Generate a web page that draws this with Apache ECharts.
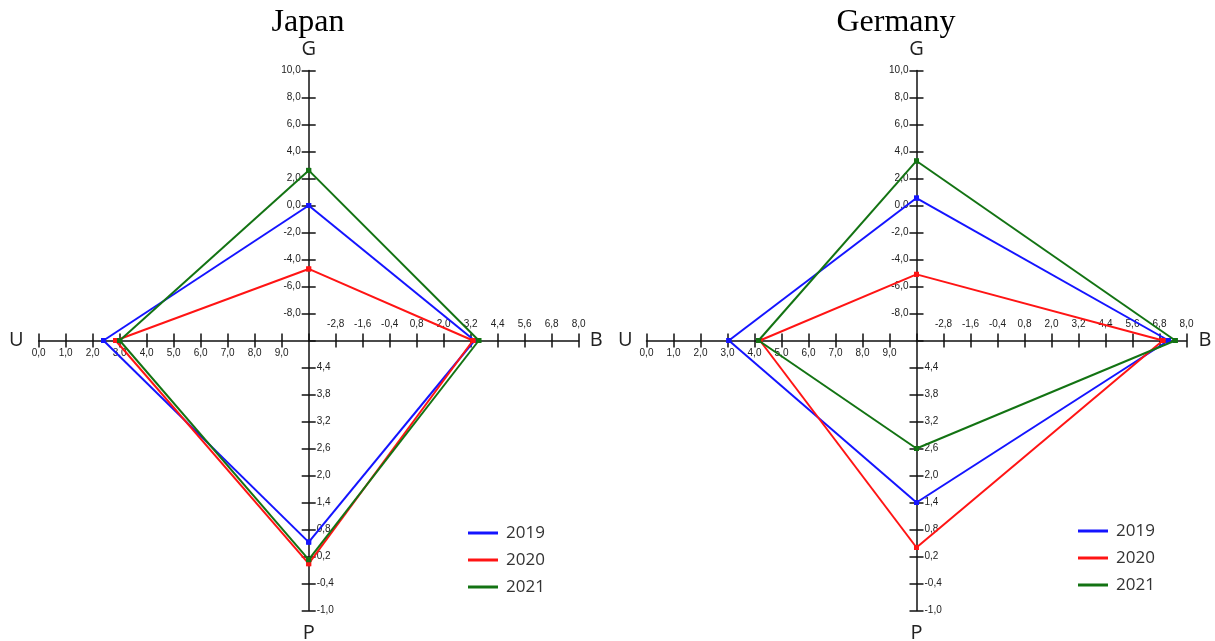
<!DOCTYPE html>
<html>
<head>
<meta charset="utf-8">
<script src="https://cdn.jsdelivr.net/npm/echarts@6/dist/echarts.min.js"></script>
<style>
html,body{margin:0;padding:0;background:#fff;}
#chart{width:1215px;height:641px;}
</style>
</head>
<body>
<div id="chart"></div>
<script>
// ---- data (values per year: 2019, 2020, 2021) ----
const years = ['2019', '2020', '2021'];
const yearColors = ['#1414ff', '#ff1414', '#137313'];

const japanG = [0.0, -4.7, 2.6];
const japanB = [3.37, 3.3, 3.56];
const japanP = [0.52, 0.04, 0.13];
const japanU = [2.4, 2.85, 3.0];

const germanyG = [0.55, -5.1, 3.3];
const germanyB = [7.2, 6.95, 7.5];
const germanyP = [1.4, 0.4, 2.6];
const germanyU = [3.05, 4.2, 4.15];

// axis scales: [value at centre, value at outer end] and tick step
const gRange = [-10, 10], gStep = 2;
const bRange = [-4, 8], bStep = 1.2;
const pRange = [-1, 5], pStep = 0.6;   // -1 at outer end, 5 at centre
const uRange = [0, 10], uStep = 1;     // 0 at outer end, 10 at centre

const charts = [
  { title: 'Japan', titleX: 303, cx: 308.7, cy: 340.5, R: 270, legendX: 463, legendY: 519,
    G: japanG, B: japanB, P: japanP, U: japanU, uGap: 15, bGap: 11 },
  { title: 'Germany', titleX: 891, cx: 916.5, cy: 340.5, R: 270, legendX: 1073, legendY: 517,
    G: germanyG, B: germanyB, P: germanyP, U: germanyU, uGap: 14, bGap: 12 }
];

// ---- styles ----
const axisColor = '#111';
const lblStyle = { fontFamily: 'Liberation Sans', fontSize: 10, color: '#222' };
const nameStyle = { fontFamily: 'Open Sans', fontSize: 20, color: '#222' };
const fmt = v => v.toFixed(1).replace('.', ',');
const aLine = show => ({ show: show, onZero: false, lineStyle: { color: axisColor, width: 1.5 } });
const aTick = { show: true, length: 7, lineStyle: { color: axisColor, width: 1.5 } };
const noLabel = { show: false };

const grid = [], xAxis = [], yAxis = [], series = [], title = [], legend = [];

charts.forEach((c, ci) => {
  const base = ci * 4;
  const { cx, cy, R } = c;
  // quadrant grids: TR, TL, BR, BL
  grid.push({ left: cx, top: cy - R, width: R, height: R, outerBoundsMode: 'none' });
  grid.push({ left: cx - R, top: cy - R, width: R, height: R, outerBoundsMode: 'none' });
  grid.push({ left: cx, top: cy, width: R, height: R, outerBoundsMode: 'none' });
  grid.push({ left: cx - R, top: cy, width: R, height: R, outerBoundsMode: 'none' });

  // TR
  xAxis.push({ type: 'value', gridIndex: base, min: bRange[0], max: bRange[1], interval: bStep,
    position: 'bottom', axisLine: aLine(true), axisTick: aTick, splitLine: { show: false },
    axisLabel: Object.assign({ inside: true, margin: 11, showMinLabel: false, formatter: fmt }, lblStyle),
    name: 'B', nameLocation: 'end', nameGap: c.bGap, nameTextStyle: nameStyle });
  yAxis.push({ type: 'value', gridIndex: base, min: gRange[0], max: gRange[1], interval: gStep,
    position: 'left', axisLine: aLine(true), axisTick: aTick, splitLine: { show: false },
    axisLabel: Object.assign({ margin: 8, showMinLabel: false, formatter: fmt }, lblStyle),
    name: 'G', nameLocation: 'end', nameGap: 11, nameTextStyle: nameStyle });
  // TL
  xAxis.push({ type: 'value', gridIndex: base + 1, min: uRange[0], max: uRange[1], interval: uStep,
    position: 'bottom', axisLine: aLine(true), axisTick: aTick, splitLine: { show: false },
    axisLabel: Object.assign({ margin: 8, showMaxLabel: false, formatter: fmt }, lblStyle),
    name: 'U', nameLocation: 'start', nameGap: c.uGap, nameTextStyle: nameStyle });
  yAxis.push({ type: 'value', gridIndex: base + 1, min: gRange[0], max: gRange[1], interval: gStep,
    position: 'right', axisLine: aLine(false), axisTick: aTick, splitLine: { show: false }, axisLabel: noLabel });
  // BR
  xAxis.push({ type: 'value', gridIndex: base + 2, min: bRange[0], max: bRange[1], interval: bStep,
    position: 'top', axisLine: aLine(false), axisTick: aTick, splitLine: { show: false }, axisLabel: noLabel });
  yAxis.push({ type: 'value', gridIndex: base + 2, min: pRange[0], max: pRange[1], interval: pStep,
    position: 'left', axisLine: aLine(true), axisTick: aTick, splitLine: { show: false },
    axisLabel: Object.assign({ inside: true, margin: 8, showMaxLabel: false, formatter: fmt }, lblStyle),
    name: 'P', nameLocation: 'start', nameGap: 13, nameTextStyle: nameStyle });
  // BL
  xAxis.push({ type: 'value', gridIndex: base + 3, min: uRange[0], max: uRange[1], interval: uStep,
    position: 'top', axisLine: aLine(false), axisTick: aTick, splitLine: { show: false }, axisLabel: noLabel });
  yAxis.push({ type: 'value', gridIndex: base + 3, min: pRange[0], max: pRange[1], interval: pStep,
    position: 'right', axisLine: aLine(false), axisTick: aTick, splitLine: { show: false }, axisLabel: noLabel });

  const gC = gRange[0], bC = bRange[0], pC = pRange[1], uC = uRange[1];
  years.forEach((yr, i) => {
    const common = { type: 'line', name: yr, color: yearColors[i], symbol: 'rect', symbolSize: 5,
      clip: false, silent: true, animation: false, lineStyle: { width: 2, color: yearColors[i] },
      itemStyle: { color: yearColors[i] }, z: 3 + i };
    // G -> B (top right)
    series.push(Object.assign({}, common, { xAxisIndex: base, yAxisIndex: base,
      data: [[bC, c.G[i]], [c.B[i], gC]] }));
    // B -> P (bottom right)
    series.push(Object.assign({}, common, { xAxisIndex: base + 2, yAxisIndex: base + 2,
      data: [[c.B[i], pC], [bC, c.P[i]]] }));
    // P -> U (bottom left)
    series.push(Object.assign({}, common, { xAxisIndex: base + 3, yAxisIndex: base + 3,
      data: [[uC, c.P[i]], [c.U[i], pC]] }));
    // U -> G (top left)
    series.push(Object.assign({}, common, { xAxisIndex: base + 1, yAxisIndex: base + 1,
      data: [[c.U[i], gC], [uC, c.G[i]]] }));
  });

  title.push({ text: c.title, left: c.titleX, top: 2, textAlign: 'center',
    textStyle: { fontFamily: 'Liberation Serif', fontSize: 32, fontWeight: 'normal', color: '#000' } });
  legend.push({ left: c.legendX, top: c.legendY, orient: 'vertical', icon: 'rect',
    itemWidth: 30, itemHeight: 3, itemGap: 9, selectedMode: false,
    textStyle: { fontFamily: 'Open Sans', fontSize: 17, color: '#333', lineHeight: 18, padding: [0, 0, 0, 3] },
    data: years });
});

const chart = echarts.init(document.getElementById('chart'), null, { renderer: 'canvas' });
chart.setOption({
  backgroundColor: '#fff',
  animation: false,
  title: title,
  legend: legend,
  grid: grid,
  xAxis: xAxis,
  yAxis: yAxis,
  series: series
});
</script>
</body>
</html>
